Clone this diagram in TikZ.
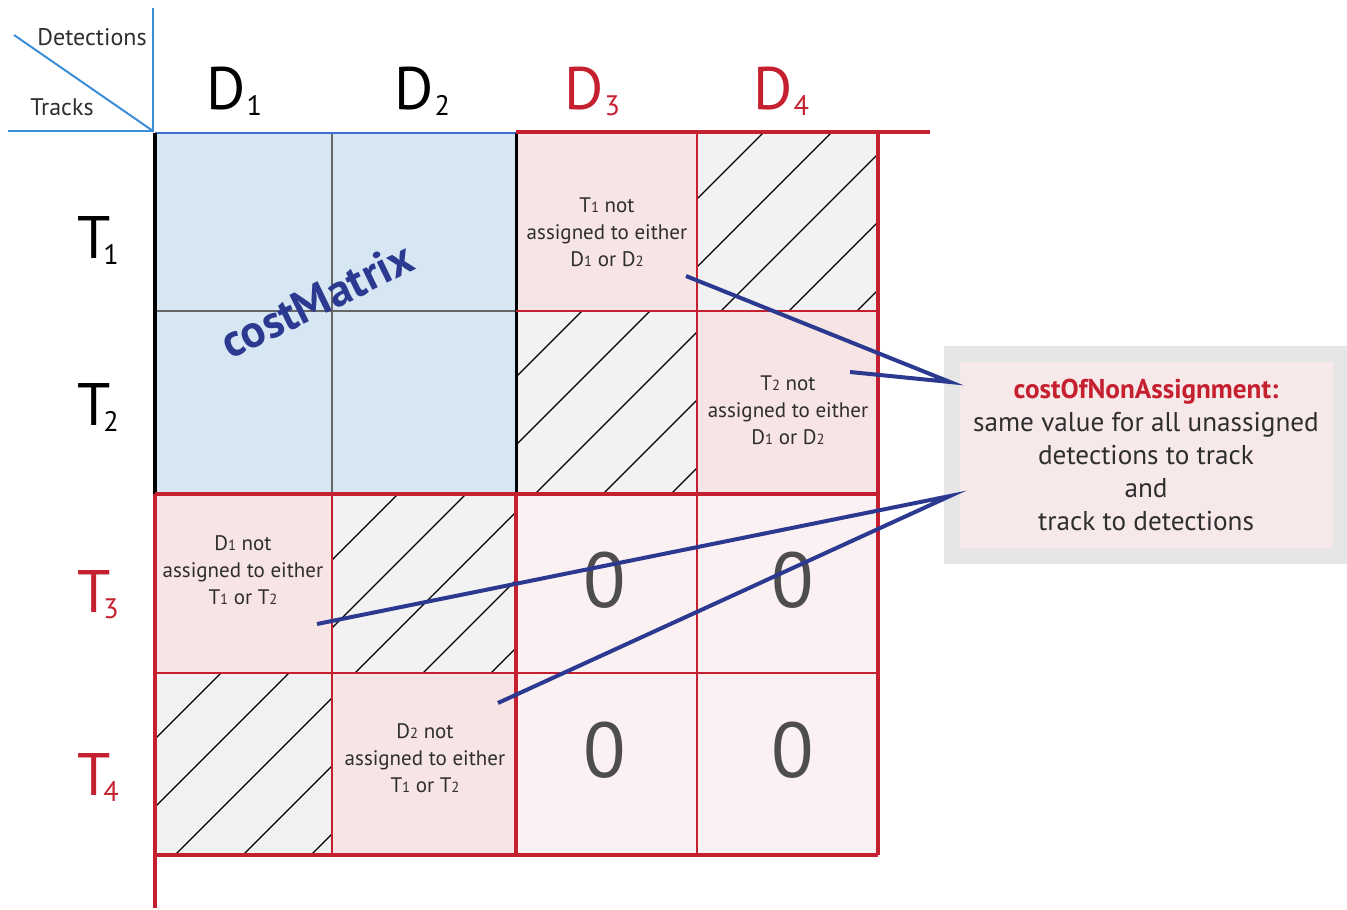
\documentclass[tikz,border=0pt]{standalone}
\usepackage{fontspec}
\setmainfont{PT Sans}
\usetikzlibrary{positioning}

\definecolor{gridred}{HTML}{C4202F}
\definecolor{matrixblue}{HTML}{D6E6F3}
\definecolor{edgeblue}{HTML}{3C6FD0}
\definecolor{axisblue}{HTML}{3A8DD6}
\definecolor{textpink}{HTML}{F7E4E5}
\definecolor{zeropink}{HTML}{FBF1F2}
\definecolor{hatchgray}{HTML}{F2F2F2}
\definecolor{linkblue}{HTML}{2B3990}
\definecolor{notegray}{HTML}{E6E6E6}
\definecolor{notepink}{HTML}{F7E8E9}
\definecolor{zerogray}{HTML}{4D4D4D}
\definecolor{inkgray}{HTML}{2E2E2E}

% small index digits
\newcommand{\bigidx}[1]{\raisebox{-0.1em}{\scalebox{0.47}{#1}}}
\newcommand{\smidx}[1]{\scalebox{0.7}{#1}}

\begin{document}
\begin{tikzpicture}[
  x=0.5pt, y=-0.5pt,
  axis/.style={draw=axisblue, line width=1pt},
  redthin/.style={draw=gridred, line width=1pt},
  redthick/.style={draw=gridred, line width=2pt},
  hatch/.style={draw=black, line width=0.6pt},
  biglabel/.style={font=\fontsize{30}{30}\selectfont, anchor=base, inner sep=0pt},
  cornerlabel/.style={font=\fontsize{12}{12}\selectfont, text=inkgray, anchor=base, inner sep=0pt},
  cellnote/.style={align=center, font=\fontsize{10.5}{13.5}\selectfont,
    text=inkgray, inner sep=0pt},
  zero/.style={font=\fontsize{39}{39}\selectfont, text=zerogray, inner sep=0pt},
  note/.style={rectangle, draw=notegray, line width=8pt, fill=notepink,
    minimum width=194.5pt, minimum height=101pt, align=center,
    font=\fontsize{13.6}{16.5}\selectfont, text=inkgray},
  link/.style={draw=linkblue, line width=2pt, line join=miter},
]
\useasboundingbox (0,0) rectangle (1347,909);

% cell fills
\fill[matrixblue] (155,133) rectangle (516,494);
\fill[textpink] (516,133) rectangle (697,311);
\fill[hatchgray] (697,133) rectangle (878,311);
\fill[hatchgray] (516,311) rectangle (697,494);
\fill[textpink] (697,311) rectangle (878,494);
\fill[textpink] (155,494) rectangle (332,673);
\fill[hatchgray] (332,494) rectangle (516,673);
\fill[zeropink] (516,494) rectangle (878,855);
\fill[hatchgray] (155,673) rectangle (332,855);
\fill[textpink] (332,673) rectangle (516,855);

% hatching of the impossible cells
\foreach \xa/\ya/\xb/\yb in {697/133/878/311, 516/311/697/494,
    332/494/516/673, 155/673/332/855} {
  \begin{scope}
    \clip (\xa,\ya) rectangle (\xb,\yb);
    \foreach \k in {0,...,5} {
      \pgfmathsetmacro\c{\xa+\ya+66+68*\k}
      \draw[hatch] (\c-\yb,\yb) -- (\c-\ya,\ya);
    }
  \end{scope}
}

% costMatrix block
\draw[draw=black!60, line width=1pt] (332,133) -- (332,494);
\draw[draw=black!60, line width=1pt] (155,311) -- (516,311);
\draw[draw=edgeblue, line width=1.2pt] (155,133) -- (516,133);
\draw[draw=edgeblue, line width=1.2pt] (155,494) -- (516,494);
\draw[draw=black, line width=1.5pt] (516,133) -- (516,494);
\draw[draw=black, line width=2pt] (155,133) -- (155,494);

% red grid
\draw[redthin] (332,494) -- (332,855);
\draw[redthin] (697,133) -- (697,855);
\draw[redthin] (155,673) -- (878,673);
\draw[redthin] (516,311) -- (878,311);
\draw[redthick] (516,132) -- (930,132);
\draw[redthick] (878,132) -- (878,855);
\draw[redthick] (155,855) -- (878,855);
\draw[redthick] (155,494) -- (878,494);
\draw[redthick] (516,494) -- (516,855);
\draw[redthick] (155,494) -- (155,908);

% corner axes
\draw[axis] (153,8) -- (153,132);
\draw[axis] (8,131) -- (153,131);
\draw[axis] (14,35) -- (153,131);
\node[cornerlabel] (det) at (92,46) {Detections};
\node[cornerlabel] (trk) at (62,116) {Tracks};

% column and row labels
\node[biglabel] (d1) at (234,110) {D\kern0.02em\bigidx{1}};
\node[biglabel] (d2) at (422,110) {D\kern0.02em\bigidx{2}};
\node[biglabel, text=gridred] (d3) at (592,110) {D\kern0.02em\bigidx{3}};
\node[biglabel, text=gridred] (d4) at (781,110) {D\kern0.02em\bigidx{4}};
\node[biglabel] (t1) at (98,258) {T\kern-0.12em\bigidx{1}};
\node[biglabel] (t2) at (98,425) {T\kern-0.12em\bigidx{2}};
\node[biglabel, text=gridred] (t3) at (98,612) {T\kern-0.12em\bigidx{3}};
\node[biglabel, text=gridred] (t4) at (98,795) {T\kern-0.12em\bigidx{4}};

\node[rotate=26, font=\fontsize{23}{23}\selectfont\bfseries, text=linkblue]
  (cm) at (317,300) {costMatrix};

% cell texts
\node[cellnote] (n13) at (607,232)
  {T\smidx{1} not\\assigned to either\\D\smidx{1} or D\smidx{2}};
\node[cellnote] (n24) at (788,410)
  {T\smidx{2} not\\assigned to either\\D\smidx{1} or D\smidx{2}};
\node[cellnote] (n31) at (243,570)
  {D\smidx{1} not\\assigned to either\\T\smidx{1} or T\smidx{2}};
\node[cellnote] (n42) at (425,758)
  {D\smidx{2} not\\assigned to either\\T\smidx{1} or T\smidx{2}};

\node[zero] (z33) at (605,580) {0};
\node[zero] (z34) at (793,580) {0};
\node[zero] (z43) at (605,750) {0};
\node[zero] (z44) at (793,750) {0};

% callout
\node[note] (note) at (1146,455)
  {{\bfseries\color{gridred}costOfNonAssignment:}\\
   same value for all unassigned\\detections to track\\and\\
   track to detections};

\coordinate (tipA) at (950,382);
\coordinate (tipB) at (950,496);
\coordinate (s13) at (686,276);
\coordinate (s24) at (850,372);
\coordinate (s31) at (317,624);
\coordinate (s42) at (498,703);

\draw[link] (s13) -- (tipA) -- (s24);
\draw[link] (s31) -- (tipB) -- (s42);

\end{tikzpicture}
\end{document}
